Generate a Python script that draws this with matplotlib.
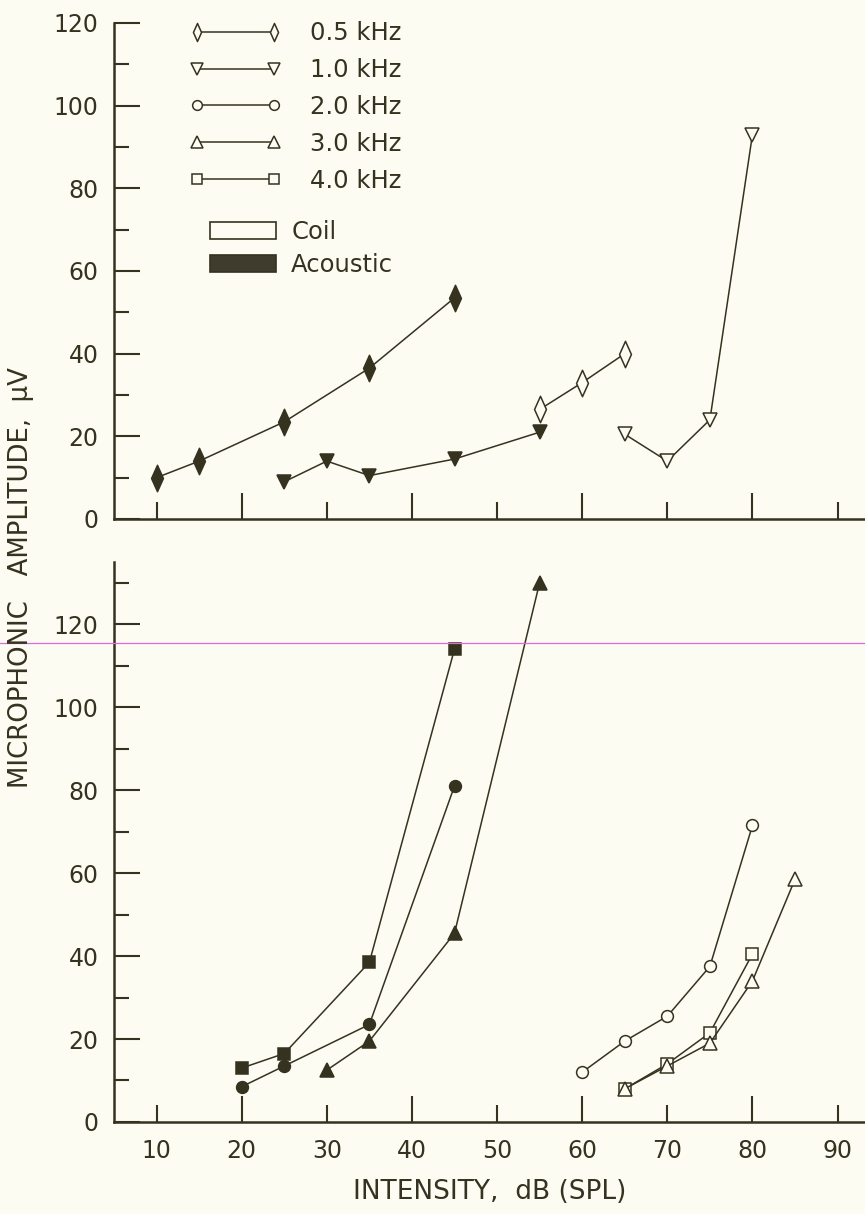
import numpy as np
import matplotlib
matplotlib.use("Agg")
import matplotlib.pyplot as plt
from matplotlib.lines import Line2D
from matplotlib.patches import Patch
from matplotlib.path import Path

# ---- data ----
# upper panel
db_ac_05 = [10, 15, 25, 35, 45]
amp_ac_05 = [10, 14, 23.5, 36.5, 53.5]
db_ac_10 = [25, 30, 35, 45, 55]
amp_ac_10 = [9, 14, 10.5, 14.5, 21]
db_coil_05 = [55, 60, 65]
amp_coil_05 = [26.5, 33, 40]
db_coil_10 = [65, 70, 75, 80]
amp_coil_10 = [20.5, 14, 24, 93]

# lower panel
db_ac_40 = [20, 25, 35, 45]
amp_ac_40 = [13, 16.5, 38.5, 114]
db_ac_20 = [20, 25, 35, 45]
amp_ac_20 = [8.5, 13.5, 23.5, 81]
db_ac_30 = [30, 35, 45, 55]
amp_ac_30 = [12.5, 19.5, 45.5, 130]
db_coil_20 = [60, 65, 70, 75, 80]
amp_coil_20 = [12, 19.5, 25.5, 37.5, 71.5]
db_coil_40 = [65, 70, 75, 80]
amp_coil_40 = [8, 14, 21.5, 40.5]
db_coil_30 = [65, 70, 75, 80, 85]
amp_coil_30 = [8, 13.5, 19, 34, 58.5]

freq_labels = ["0.5 kHz", "1.0 kHz", "2.0 kHz", "3.0 kHz", "4.0 kHz"]
stim_labels = ["Coil", "Acoustic"]

ink = "#35321f"
bg = "#fdfcf3"
plt.rcParams['font.family'] = ['DejaVu Sans']

# tall narrow diamond like the original
thin_d = Path([(0, 1), (0.45, 0), (0, -1), (-0.45, 0), (0, 1)],
              [Path.MOVETO, Path.LINETO, Path.LINETO, Path.LINETO, Path.CLOSEPOLY])
mk = {"0.5": (thin_d, 19), "1.0": ("v", 10), "2.0": ("o", 8.5),
      "3.0": ("^", 10), "4.0": ("s", 8.5)}
mk_leg = {"0.5": 13, "1.0": 8.5, "2.0": 7, "3.0": 8.5, "4.0": 7}

fig = plt.figure(figsize=(8.65, 12.14), dpi=100, facecolor=bg)
ax1 = fig.add_axes([0.1318, 0.5725, 0.868, 0.4086])
ax2 = fig.add_axes([0.1318, 0.0758, 0.868, 0.4613])


def series(ax, x, y, key, filled):
    m, s = mk[key]
    ax.plot(x, y, color=ink, lw=1.1, marker=m, ms=s, mec=ink, mew=1.1,
            mfc=ink if filled else bg, clip_on=False, zorder=3)


series(ax1, db_ac_05, amp_ac_05, "0.5", True)
series(ax1, db_ac_10, amp_ac_10, "1.0", True)
series(ax1, db_coil_05, amp_coil_05, "0.5", False)
series(ax1, db_coil_10, amp_coil_10, "1.0", False)

series(ax2, db_ac_40, amp_ac_40, "4.0", True)
series(ax2, db_ac_20, amp_ac_20, "2.0", True)
series(ax2, db_ac_30, amp_ac_30, "3.0", True)
series(ax2, db_coil_20, amp_coil_20, "2.0", False)
series(ax2, db_coil_40, amp_coil_40, "4.0", False)
series(ax2, db_coil_30, amp_coil_30, "3.0", False)

for ax, ytop in [(ax1, 120), (ax2, 135)]:
    ax.set_facecolor(bg)
    ax.set_xlim(5, 93.2)
    ax.set_ylim(0, ytop)
    ax.spines['top'].set_visible(False)
    ax.spines['right'].set_visible(False)
    for s in ['left', 'bottom']:
        ax.spines[s].set_linewidth(1.8)
        ax.spines[s].set_color(ink)
    ax.set_xticks([20, 40, 60, 80])
    ax.set_xticks([10, 30, 50, 70, 90], minor=True)
    ax.set_yticks(range(0, 121, 20))
    ax.set_yticks(range(10, ytop, 20), minor=True)
    ax.tick_params(which='both', direction='in', colors=ink, width=1.5,
                   labelsize=17, pad=11)
    ax.tick_params(which='major', length=19)
    ax.tick_params(which='minor', length=12)
    ax.tick_params(axis='y', which='minor', length=11)

ax1.tick_params(axis='x', which='both', labelbottom=False)
ax2.set_xticks([10, 30, 50, 70, 90], labels=[str(v) for v in [10, 30, 50, 70, 90]], minor=True)
ax2.tick_params(axis='x', which='both', pad=12)

ax2.set_xlabel("INTENSITY,  dB (SPL)", fontsize=19, color=ink, labelpad=12)
fig.text(0.024, 0.524, "MICROPHONIC   AMPLITUDE,  \u03bcV", rotation=90,
         ha='center', va='center', fontsize=18.7, color=ink)

# legends
h_freq = []
for key in ["0.5", "1.0", "2.0", "3.0", "4.0"]:
    m, s = mk[key]
    h_freq.append(Line2D([], [], color=ink, lw=1.1, marker=m, ms=mk_leg[key],
                         mec=ink, mew=1.1, mfc=bg))
leg1 = ax1.legend(h_freq, freq_labels, numpoints=2, loc='upper left',
                  bbox_to_anchor=(0.0842, 1.028), frameon=False, fontsize=17.5,
                  handlelength=3.8, handletextpad=1.15, labelspacing=0.53,
                  borderpad=0, labelcolor=ink)
ax1.add_artist(leg1)
h_stim = [Patch(facecolor=bg, edgecolor=ink, lw=1.2),
          Patch(facecolor="#403c2d", edgecolor=ink, lw=1.2)]
ax1.legend(h_stim, stim_labels, loc='upper left', bbox_to_anchor=(0.1123, 0.627),
           frameon=False, fontsize=17.5, handlelength=2.7, handleheight=0.7,
           handletextpad=0.62, labelspacing=0.35, borderpad=0, labelcolor=ink)

# thin magenta scan line across the page
fig.add_artist(Line2D([0, 1], [0.4703, 0.4703], transform=fig.transFigure,
                      color="#dc6ad9", lw=0.9))

fig.savefig("out.png", dpi=100, facecolor=bg)
